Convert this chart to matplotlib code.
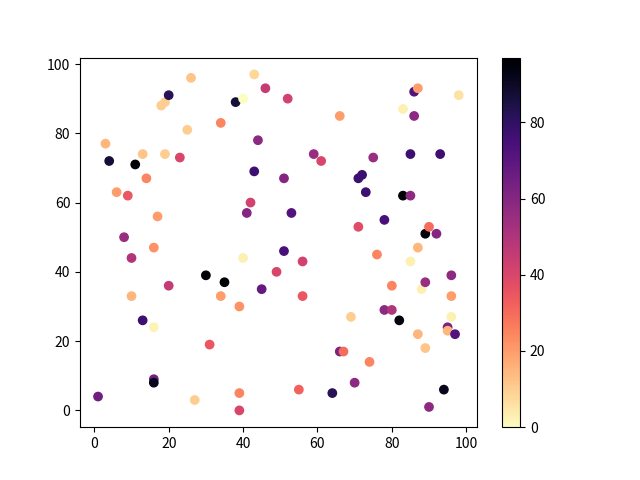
import matplotlib
matplotlib.use('Agg')
import matplotlib.pyplot as plt

plt.rcParams['font.family'] = ['Noto Sans CJK SC', 'DejaVu Sans']

# point positions and colour values
x = [1, 3, 4, 6, 8, 9, 10, 10, 11, 13, 13, 14, 16, 16, 16, 16, 17, 18, 19, 19,
     20, 20, 23, 25, 26, 27, 30, 31, 34, 34, 35, 38, 39, 39, 39, 40, 40, 41, 42, 43,
     43, 44, 45, 46, 49, 51, 51, 52, 53, 55, 56, 56, 59, 61, 64, 66, 66, 67, 69, 70,
     71, 72, 71, 73, 74, 75, 76, 78, 78, 80, 80, 82, 83, 83, 85, 85, 85, 86, 87, 86,
     87, 87, 88, 89, 89, 89, 90, 90, 92, 93, 94, 95, 95, 96, 96, 96, 97, 98]
y = [4, 77, 72, 63, 50, 62, 44, 33, 71, 74, 26, 67, 47, 24, 9, 8, 56, 88, 89, 74,
     91, 36, 73, 81, 96, 3, 39, 19, 83, 33, 37, 89, 30, 5, 0, 90, 44, 57, 60, 97,
     69, 78, 35, 93, 40, 67, 46, 90, 57, 6, 43, 33, 74, 72, 5, 85, 17, 17, 27, 8,
     67, 68, 53, 63, 14, 73, 45, 55, 29, 29, 36, 26, 87, 62, 62, 74, 43, 92, 93, 85,
     47, 22, 35, 37, 18, 51, 53, 1, 51, 74, 6, 24, 23, 39, 33, 27, 22, 91]
c = [65, 15, 87, 20, 55, 35, 50, 15, 97, 12, 77, 25, 22, 2, 65, 92, 20, 10, 10, 10,
     82, 45, 40, 10, 12, 10, 96, 35, 25, 20, 96, 87, 22, 25, 40, 0, 3, 60, 42, 8,
     77, 58, 68, 45, 40, 60, 74, 42, 72, 32, 42, 35, 55, 40, 82, 20, 62, 30, 10, 58,
     77, 77, 38, 77, 25, 55, 25, 74, 58, 50, 25, 94, 3, 96, 58, 77, 3, 72, 20, 58,
     15, 15, 3, 55, 12, 96, 30, 58, 60, 77, 92, 62, 15, 58, 20, 3, 72, 6]

fig, ax = plt.subplots(figsize=(6.4, 4.8), dpi=100)
sc = ax.scatter(x, y, c=c, cmap='magma_r')
fig.colorbar(sc)

fig.savefig('out.png')
